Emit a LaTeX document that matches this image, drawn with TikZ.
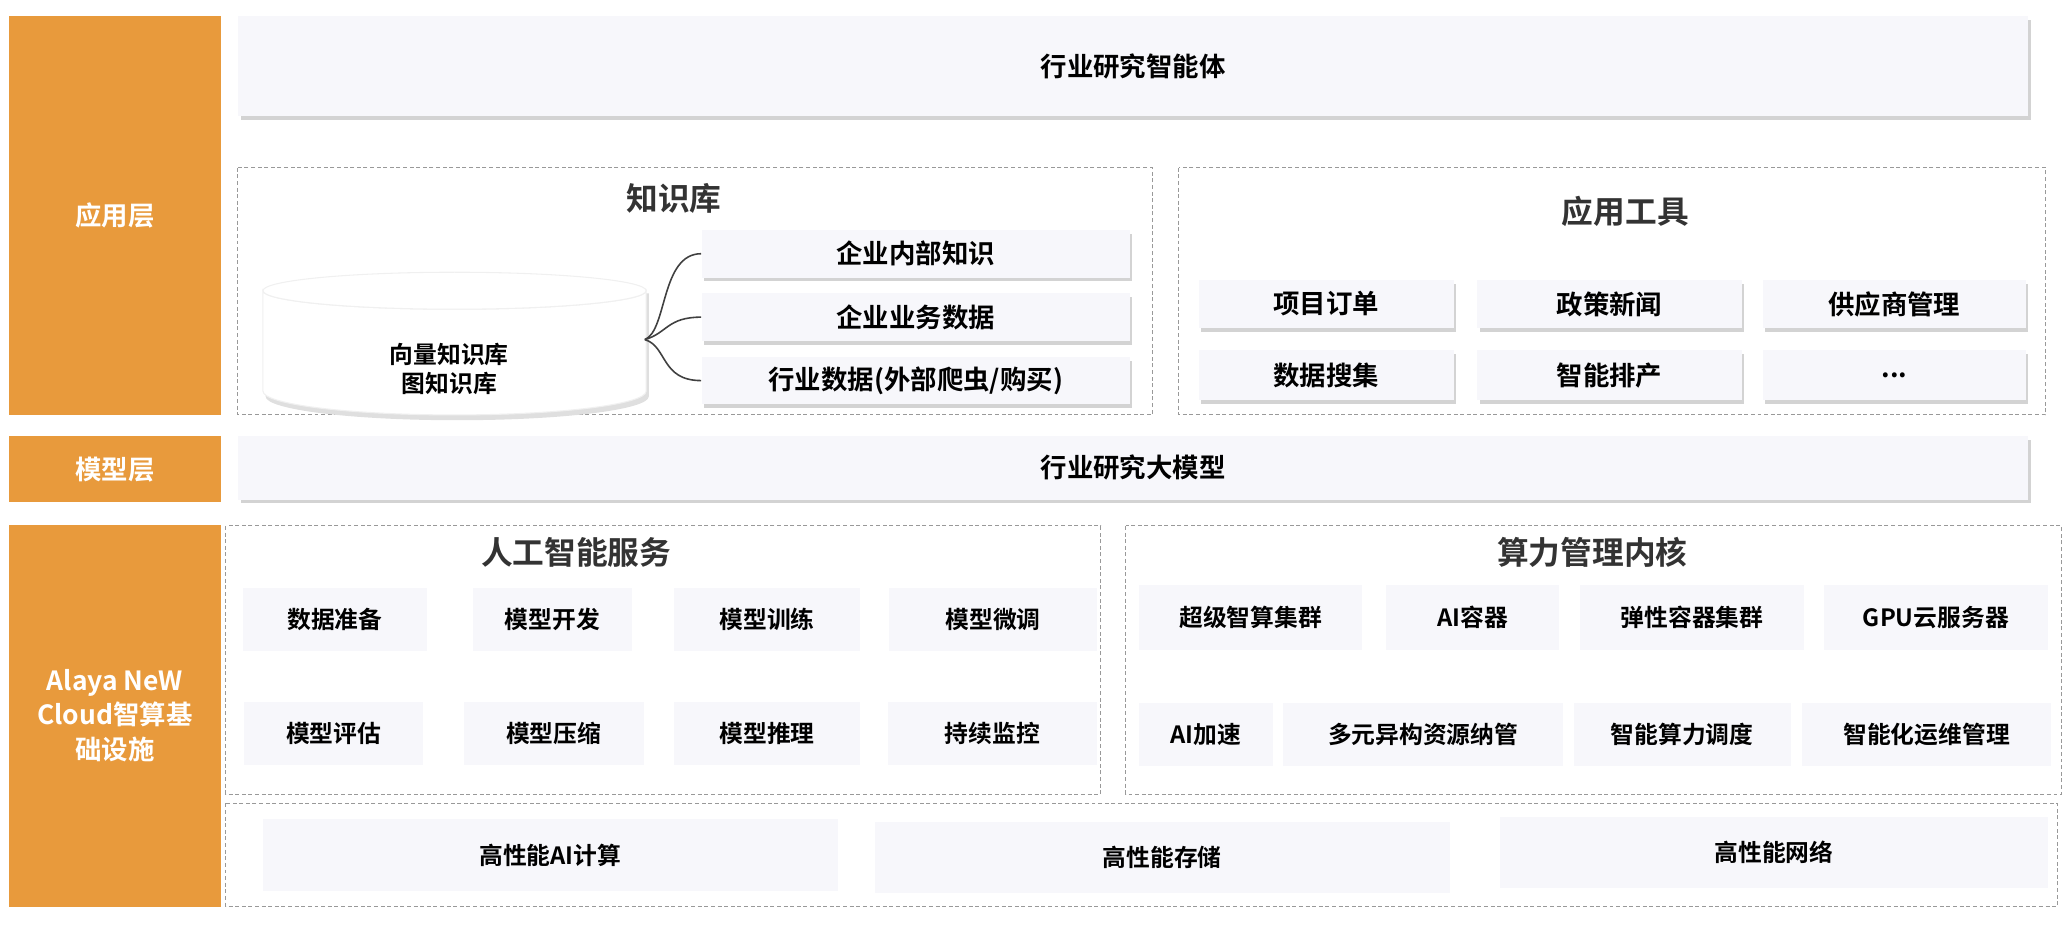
\documentclass[tikz,border=0pt]{standalone}
\usepackage{fontspec}
\setmainfont{Noto Sans CJK SC}[BoldFont={* Bold}]
\usetikzlibrary{shadows}
\definecolor{org}{HTML}{E89A3C}
\definecolor{card}{HTML}{F7F7FB}
\begin{document}
\begin{tikzpicture}[x=0.5pt,y=-0.5pt,
 layer/.style={fill=org,draw=none,text=white,font=\bfseries\fontsize{10}{13}\selectfont,align=center},
 bar/.style={fill=card,draw=none,drop shadow={shadow xshift=1pt,shadow yshift=-1.5pt,opacity=0.35},font=\bfseries\fontsize{10}{12}\selectfont},
 cardb/.style={fill=card,draw=none,font=\bfseries\fontsize{9}{11}\selectfont},
 grp/.style={draw=gray!80,dash pattern=on 1.5pt off 1pt,line width=0.4pt},
 ttl/.style={font=\bfseries\fontsize{12}{14}\selectfont,text=black!80}]
\useasboundingbox (0,0) rectangle (1568,707);
\def\R(#1,#2,#3,#4,#5,#6,#7){\node[#6,minimum width=(#3-#1)*0.5pt,minimum height=(#4-#2)*0.5pt,inner sep=0] (#5) at ({(#1+#3)/2},{(#2+#4)/2}) {#7};}
\R(7,12,167,314,l1,layer,应用层)
\R(7,330,167,380,l2,layer,模型层)
\R(7,397,167,686,l3,layer,{Alaya NeW\\Cloud智算基\\础设施})
\R(180,12,1535,88,top,bar,行业研究智能体)
\R(180,330,1535,378,mdl,bar,行业研究大模型)
% knowledge
\draw[grp] (180,127) rectangle (872,314);
\node[ttl] (kt) at (510,150) {知识库};
\R(531,174,855,210,k1,bar,企业内部知识)
\R(531,222,855,258,k2,bar,企业业务数据)
\R(531,270,855,306,k3,bar,{行业数据(外部爬虫/购买)})
\fill[gray!25] (201,222) -- (201,300) arc[start angle=180,end angle=360,x radius=145,y radius=-18] -- (491,222) -- cycle;
\fill[white,draw=gray!12] (199,220) -- (199,296) arc[start angle=180,end angle=360,x radius=145,y radius=-18] -- (489,220) arc[start angle=0,end angle=180,x radius=145,y radius=14] -- cycle;
\draw[gray!12,fill=white] (344,220) ellipse[x radius=145,y radius=14];
\node[font=\bfseries\fontsize{9}{11}\selectfont,align=center] (cyt) at (340,279) {向量知识库\\图知识库};
\coordinate (cr) at (488,257);
\draw[black!75,line width=0.6pt] (cr) .. controls (505,250) and (500,192) .. (k1.west);
\draw[black!75,line width=0.6pt] (cr) .. controls (505,252) and (505,240) .. (k2.west);
\draw[black!75,line width=0.6pt] (cr) .. controls (505,262) and (500,288) .. (k3.west);
% tools
\draw[grp] (892,127) rectangle (1548,314);
\node[ttl] (tt) at (1230,160) {应用工具};
\R(907,212,1100,248,t1,bar,项目订单)
\R(1118,212,1318,248,t2,bar,政策新闻)
\R(1334,212,1533,248,t3,bar,供应商管理)
\R(907,265,1100,303,t4,bar,数据搜集)
\R(1118,265,1318,303,t5,bar,智能排产)
\R(1334,265,1533,303,t6,bar,...)
% AI services
\draw[grp] (171,398) rectangle (833,601);
\node[ttl] (at) at (436,418) {人工智能服务};
\R(184,445,323,493,a1,cardb,数据准备)
\R(358,445,478,493,a2,cardb,模型开发)
\R(510,445,651,493,a3,cardb,模型训练)
\R(673,445,830,493,a4,cardb,模型微调)
\R(185,531,320,579,a5,cardb,模型评估)
\R(351,531,487,579,a6,cardb,模型压缩)
\R(510,531,651,579,a7,cardb,模型推理)
\R(672,531,830,579,a8,cardb,持续监控)
% compute kernel
\draw[grp] (852,398) rectangle (1560,601);
\node[ttl] (ct) at (1205,418) {算力管理内核};
\R(862,443,1031,492,c1,cardb,超级智算集群)
\R(1049,443,1180,492,c2,cardb,AI容器)
\R(1196,443,1365,492,c3,cardb,弹性容器集群)
\R(1380,443,1550,492,c4,cardb,GPU云服务器)
\R(862,532,963,580,c5,cardb,AI加速)
\R(971,532,1183,580,c6,cardb,多元异构资源纳管)
\R(1191,532,1355,580,c7,cardb,智能算力调度)
\R(1364,532,1552,580,c8,cardb,智能化运维管理)
% bottom
\draw[grp] (171,608) rectangle (1557,686);
\R(199,620,634,674,b1,cardb,高性能AI计算)
\R(662,622,1097,676,b2,cardb,高性能存储)
\R(1135,618,1550,672,b3,cardb,高性能网络)
\end{tikzpicture}
\end{document}
